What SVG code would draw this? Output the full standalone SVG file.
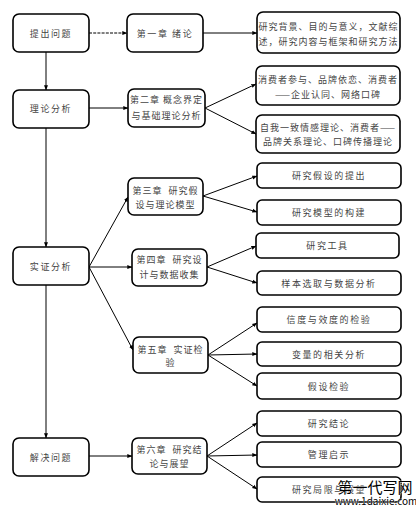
<svg xmlns="http://www.w3.org/2000/svg" width="416" height="513" viewBox="0 0 416 513">
<style>
.box{fill:#fff;stroke:#000;stroke-width:1.6}
.t{font-family:"Noto Sans CJK SC","Liberation Serif",serif;font-size:9px;fill:#444;text-anchor:middle;letter-spacing:1px}
.s{letter-spacing:1.6px}
.c{stroke:#000;stroke-width:1;fill:none;marker-end:url(#ah)}
.wm{font-family:"Noto Sans CJK SC","Liberation Sans",sans-serif;fill:#000;stroke:#fff;stroke-width:0.6;paint-order:stroke}
</style>
<defs>
<marker id="ah" viewBox="0 0 8 8" refX="7.5" refY="4" markerWidth="5" markerHeight="5" orient="auto" markerUnits="strokeWidth">
<path d="M0,0.8 L8,4 L0,7.2 Z" fill="#000"/>
</marker>
</defs>
<rect width="416" height="513" fill="#fff"/>
<g id="connectors">
<line class="c" x1="89" y1="33" x2="127" y2="33" stroke-dasharray="3,1.2"/>
<line class="c" x1="203" y1="33" x2="257" y2="33"/>
<line class="c" x1="46" y1="52" x2="46" y2="90"/>
<line class="c" x1="89" y1="108" x2="128" y2="108"/>
<line class="c" x1="205" y1="108" x2="256" y2="84"/>
<line class="c" x1="205" y1="108" x2="256" y2="134"/>
<line class="c" x1="46" y1="128" x2="46" y2="247"/>
<line class="c" x1="89" y1="267" x2="128" y2="197"/>
<line class="c" x1="89" y1="267" x2="132" y2="267"/>
<line class="c" x1="89" y1="267" x2="133" y2="350"/>
<line class="c" x1="203" y1="196" x2="257" y2="176"/>
<line class="c" x1="203" y1="196" x2="257" y2="212"/>
<line class="c" x1="207" y1="267" x2="256" y2="246"/>
<line class="c" x1="207" y1="267" x2="257" y2="283"/>
<line class="c" x1="208" y1="355" x2="257" y2="323"/>
<line class="c" x1="208" y1="355" x2="257" y2="354"/>
<line class="c" x1="208" y1="355" x2="257" y2="386"/>
<line class="c" x1="46" y1="285" x2="46" y2="438"/>
<line class="c" x1="89" y1="456" x2="132" y2="456"/>
<line class="c" x1="207" y1="456" x2="257" y2="423"/>
<line class="c" x1="207" y1="456" x2="257" y2="455"/>
<line class="c" x1="207" y1="456" x2="257" y2="489"/>
</g>
<g id="n-tichu"><rect class="box" x="13" y="14" width="76" height="38" rx="6"/><text class="t s" x="51" y="36.5">提出问题</text></g>
<g id="n-lilun"><rect class="box" x="13" y="90" width="76" height="38" rx="6"/><text class="t s" x="51" y="112">理论分析</text></g>
<g id="n-shizheng"><rect class="box" x="13" y="247" width="76" height="38" rx="6"/><text class="t s" x="51" y="270">实证分析</text></g>
<g id="n-jiejue"><rect class="box" x="13" y="438" width="76" height="38" rx="6"/><text class="t s" x="51" y="461">解决问题</text></g>
<g id="n-ch1"><rect class="box" x="127" y="14" width="76" height="38" rx="6"/><text class="t s" x="165" y="36.5">第一章 绪论</text></g>
<g id="n-ch2"><rect class="box" x="128" y="89" width="77" height="38" rx="6"/><text class="t" x="166.5" y="103" letter-spacing="0.5">第二章 概念界定</text><text class="t" x="166.5" y="119">与基础理论分析</text></g>
<g id="n-ch3"><rect class="box" x="128" y="178" width="75" height="37" rx="6"/><text class="t" x="165.5" y="194">第三章&#160;&#160;研究假</text><text class="t" x="165.5" y="208">设与理论模型</text></g>
<g id="n-ch4"><rect class="box" x="132" y="249" width="75" height="37" rx="6"/><text class="t" x="169.5" y="263">第四章&#160;&#160;研究设</text><text class="t" x="169.5" y="278">计与数据收集</text></g>
<g id="n-ch5"><rect class="box" x="133" y="337" width="75" height="36" rx="6"/><text class="t" x="170.5" y="353">第五章&#160;&#160;实证检</text><text class="t" x="170.5" y="366">验</text></g>
<g id="n-ch6"><rect class="box" x="132" y="438" width="75" height="36" rx="6"/><text class="t" x="169.5" y="453">第六章&#160;&#160;研究结</text><text class="t" x="169.5" y="467">论与展望</text></g>
<g id="n-r1"><rect class="box" x="257" y="12" width="143" height="41" rx="6"/><text class="t" x="328.5" y="30">研究背景、目的与意义，文献综</text><text class="t" x="328.5" y="45">述，研究内容与框架和研究方法</text></g>
<g id="n-r2"><rect class="box" x="256" y="66" width="144" height="39" rx="6"/><text class="t" x="328" y="83">消费者参与、品牌依恋、消费者</text><text class="t" x="328" y="98">——企业认同、网络口碑</text></g>
<g id="n-r3"><rect class="box" x="256" y="115" width="144" height="38" rx="6"/><text class="t" x="328" y="131">自我一致情感理论、消费者——</text><text class="t" x="328" y="145">品牌关系理论、口碑传播理论</text></g>
<g id="n-r4"><rect class="box" x="257" y="163" width="144" height="25" rx="5"/><text class="t s" x="329" y="179">研究假设的提出</text></g>
<g id="n-r5"><rect class="box" x="257" y="200" width="144" height="25" rx="5"/><text class="t s" x="329" y="216">研究模型的构建</text></g>
<g id="n-r6"><rect class="box" x="256" y="233" width="143" height="25" rx="5"/><text class="t s" x="327.5" y="249">研究工具</text></g>
<g id="n-r7"><rect class="box" x="257" y="271" width="144" height="24" rx="5"/><text class="t s" x="329" y="286.5">样本选取与数据分析</text></g>
<g id="n-r8"><rect class="box" x="257" y="307" width="144" height="25" rx="5"/><text class="t s" x="329" y="323">信度与效度的检验</text></g>
<g id="n-r9"><rect class="box" x="257" y="342" width="144" height="24" rx="5"/><text class="t s" x="329" y="357.5">变量的相关分析</text></g>
<g id="n-r10"><rect class="box" x="257" y="373" width="144" height="26" rx="5"/><text class="t s" x="329" y="389.5">假设检验</text></g>
<g id="n-r11"><rect class="box" x="257" y="411" width="144" height="25" rx="5"/><text class="t s" x="329" y="427">研究结论</text></g>
<g id="n-r12"><rect class="box" x="257" y="442" width="144" height="25" rx="5"/><text class="t s" x="329" y="458">管理启示</text></g>
<g id="n-r13"><rect class="box" x="257" y="477" width="144" height="25" rx="5"/><text class="t s" x="329" y="493">研究局限与展望</text></g>
<g id="watermark">
<text class="wm" x="375" y="493" font-size="15" text-anchor="middle">第一代写网</text>
<text class="wm" x="376" y="505" font-size="10" text-anchor="middle">www.1daixie.com</text>
</g>
</svg>
